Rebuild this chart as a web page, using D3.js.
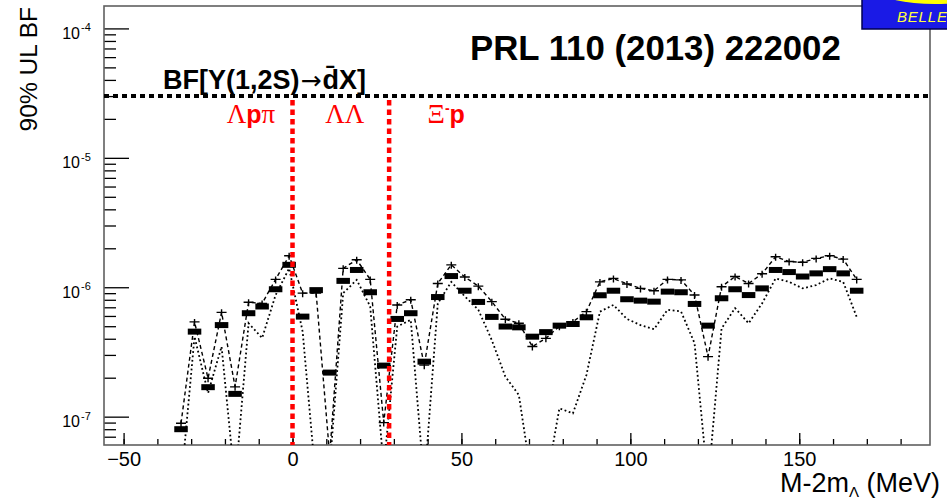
<!DOCTYPE html>
<html>
<head>
<meta charset="utf-8">
<script src="https://cdn.jsdelivr.net/npm/d3@7/dist/d3.min.js"></script>
<style>
html,body{margin:0;padding:0;background:#fff;}
svg{display:block;}
</style>
</head>
<body>
<svg id="chart" width="947" height="502"></svg>
<script>
// ---- data ----
const massBins = [-33,-29,-25,-21,-17,-13,-9,-5,-1,3,7,11,15,19,23,27,31,35,39,43,47,51,55,59,63,67,71,75,79,83,87,91,95,99,103,107,111,115,119,123,127,131,135,139,143,147,151,155,159,163,167];
const ulBars = [8.0e-8,4.54e-7,1.69e-7,5.1e-7,1.5e-7,6.3e-7,7.1e-7,9.65e-7,1.49e-6,5.93e-7,9.5e-7,2.19e-7,1.12e-6,1.36e-6,9.15e-7,2.48e-7,5.69e-7,6.3e-7,2.66e-7,8.4e-7,1.22e-6,9.4e-7,7.7e-7,5.9e-7,4.97e-7,4.9e-7,4.15e-7,4.5e-7,5.05e-7,5.2e-7,5.86e-7,8.67e-7,9.4e-7,8.08e-7,7.88e-7,7.74e-7,9.25e-7,9.15e-7,7.43e-7,5.05e-7,8.22e-7,9.65e-7,8.7e-7,9.8e-7,1.36e-6,1.31e-6,1.21e-6,1.28e-6,1.38e-6,1.28e-6,9.4e-7];
const ulDashed = [8.9e-8,5.4e-7,1.98e-7,6.4e-7,1.7e-7,7.65e-7,7.5e-7,1.15e-6,1.75e-6,9.0e-7,9.0e-7,5e-8,1.40e-6,1.63e-6,1.15e-6,9.0e-8,7.3e-7,8.0e-7,2.5e-7,1.07e-6,1.49e-6,1.2e-6,1.02e-6,7.74e-7,5.66e-7,5.27e-7,3.48e-7,4.03e-7,5.0e-7,5.4e-7,6.48e-7,1.1e-6,1.17e-6,1.06e-6,9.8e-7,9.4e-7,1.15e-6,1.14e-6,8.7e-7,2.91e-7,1.01e-6,1.21e-6,1.07e-6,1.27e-6,1.72e-6,1.58e-6,1.56e-6,1.67e-6,1.75e-6,1.65e-6,1.15e-6];
const ulDotted = [3e-8,4.15e-7,1.52e-7,3.48e-7,3e-8,5.27e-7,4.05e-7,8.7e-7,1.40e-6,4.54e-7,3e-8,4e-8,9e-7,1.14e-6,7.1e-7,4e-8,4.97e-7,5.6e-7,3e-8,7.5e-7,1.1e-6,8.5e-7,6.7e-7,3.9e-7,2.04e-7,1.47e-7,3e-8,3e-8,1.16e-7,1.06e-7,2.1e-7,6.48e-7,7.3e-7,5.69e-7,5.1e-7,4.74e-7,6.7e-7,6.5e-7,3.7e-7,3e-8,4.8e-7,6.9e-7,5.27e-7,7.5e-7,1.17e-6,1.1e-6,9.8e-7,1.04e-6,1.17e-6,1.1e-6,5.9e-7];
const binWidth = 4;
const thresholds = [0, 28.6];
const bfLimit = 3e-5;
const xMajorTicks = [-50, 0, 50, 100, 150];
const xMinorTicks = [-50,-40,-30,-20,-10,0,10,20,30,40,50,60,70,80,90,100,110,120,130,140,150,160,170,180];
const yMajorExponents = [-7, -6, -5, -4];
const yMinorMantissas = [2,3,4,5,6,7,8,9];
const regionLabels = [
  {parts:[["Λ","serif"],["p","sans"],["π","serif"]], at:-12.3},
  {parts:[["Λ","serif"],["Λ","serif"]], at:15.5},
  {parts:[["Ξ","serif"],["-","sup"],["p","sans"]], at:45.5}
];
const titleText = "PRL 110 (2013) 222002";
const bfLabel = {pre:"BF[Y(1,2S)", arrow:"→", post:"d\u0304X]"};

// ---- layout ----
const L = 104, R = 930, T = 6, B = 445;
const svg = d3.select("#chart");
const x = d3.scaleLinear().domain([-55.8, 188.7]).range([L, R]);
const y = d3.scaleLog().domain([6.04e-8, 1.49e-4]).range([B, T]);
const FONT = "'Liberation Sans', Arial, Helvetica, sans-serif";
const SERIF = "'Liberation Serif', 'Times New Roman', serif";

svg.append("rect").attr("width",947).attr("height",502).attr("fill","#fff");

svg.append("defs").append("clipPath").attr("id","plotclip")
  .append("rect").attr("x",L).attr("y",T).attr("width",R-L).attr("height",B-T);

// x axis ticks (pointing up)
const gx = svg.append("g").attr("transform",`translate(0,${B})`);
gx.call(d3.axisBottom(x).tickValues(xMinorTicks).tickSize(-6).tickFormat(""));
gx.call(g=>g.select(".domain").remove());
const gx2 = svg.append("g").attr("transform",`translate(0,${B})`);
gx2.call(d3.axisBottom(x).tickValues(xMajorTicks).tickSize(-12).tickFormat(d3.format("d")));
gx2.call(g=>g.select(".domain").remove());
gx2.selectAll("text").attr("y",21).attr("dy",0).attr("font-size",20).attr("font-family",FONT).attr("fill","#000");
svg.selectAll(".tick line").attr("stroke","#000").attr("stroke-width",1.3);

// y axis ticks (pointing right)
const yMajor = yMajorExponents.map(e=>Math.pow(10,e));
const yMinor = [];
yMajorExponents.concat([-8]).forEach(e=>yMinorMantissas.forEach(m=>{
  const v = m*Math.pow(10,e);
  if (v >= y.domain()[0] && v <= y.domain()[1]) yMinor.push(v);
}));
const gy = svg.append("g").attr("transform",`translate(${L},0)`);
gy.call(d3.axisLeft(y).tickValues(yMinor).tickSize(-12).tickFormat(""));
gy.call(g=>g.select(".domain").remove());
const gy2 = svg.append("g").attr("transform",`translate(${L},0)`);
gy2.call(d3.axisLeft(y).tickValues(yMajor).tickSize(-25).tickFormat(""));
gy2.call(g=>g.select(".domain").remove());
svg.selectAll(".tick line").attr("stroke","#000").attr("stroke-width",1.3);

// y labels 10^n
yMajorExponents.forEach(e=>{
  const yy = y(Math.pow(10,e));
  svg.append("text").attr("x",80).attr("y",yy+10.5)
    .attr("font-family",FONT).attr("font-size",16).attr("text-anchor","end").attr("fill","#000").text("10");
  svg.append("text").attr("x",81).attr("y",yy+3)
    .attr("font-family",FONT).attr("font-size",11).attr("fill","#000").text(String(e));
});

// frame
svg.append("rect").attr("x",L).attr("y",T).attr("width",R-L).attr("height",B-T)
  .attr("fill","none").attr("stroke","#606060").attr("stroke-width",1.6);

// data
const plot = svg.append("g").attr("clip-path","url(#plotclip)");
const pts = (arr)=>massBins.map((m,i)=>[x(m), y(arr[i])]);

plot.append("path").attr("d", d3.line()(pts(ulDotted)))
  .attr("fill","none").attr("stroke","#000").attr("stroke-width",1.8)
  .attr("stroke-dasharray","1.8,2.6");
plot.append("path").attr("d", d3.line()(pts(ulDashed)))
  .attr("fill","none").attr("stroke","#000").attr("stroke-width",1.4)
  .attr("stroke-dasharray","4,3");

// markers for dashed series
plot.selectAll(".mk").data(massBins).enter().append("path")
  .attr("d",(m,i)=>{
    const cx = x(m), cy = y(ulDashed[i]);
    return `M${cx-5},${cy}H${cx+5}M${cx},${cy-3}V${cy+4}`;
  })
  .attr("stroke","#000").attr("stroke-width",1.4).attr("fill","none");

// thick bars
plot.selectAll(".bar").data(massBins).enter().append("rect")
  .attr("x",m=>x(m-binWidth/2)).attr("width",m=>x(m+binWidth/2)-x(m-binWidth/2))
  .attr("y",(m,i)=>y(ulBars[i])-3).attr("height",6).attr("fill","#000");

// BF limit line
svg.append("line").attr("x1",L).attr("x2",R).attr("y1",y(bfLimit)).attr("y2",y(bfLimit))
  .attr("stroke","#000").attr("stroke-width",4).attr("stroke-dasharray","5,4");

// threshold lines
svg.selectAll(".thr").data(thresholds).enter().append("line")
  .attr("x1",d=>x(d)).attr("x2",d=>x(d)).attr("y1",y(bfLimit)+4).attr("y2",B)
  .attr("stroke","#ff0000").attr("stroke-width",4.5).attr("stroke-dasharray","5.5,4");

// region labels
regionLabels.forEach(lab=>{
  const t = svg.append("text").attr("x",x(lab.at)).attr("y",123).attr("text-anchor","middle").attr("fill","#ff0000");
  lab.parts.forEach(([s,kind],i)=>{
    const ts = t.append("tspan").text(s);
    if (kind==="serif") ts.attr("font-family",SERIF).attr("font-size",27);
    else if (kind==="sans") ts.attr("font-family",FONT).attr("font-weight","bold").attr("font-size",25);
    else if (kind==="sup") ts.attr("font-family",FONT).attr("font-weight","bold").attr("font-size",14).attr("dy",-10);
    if (i>0 && lab.parts[i-1][1]==="sup") ts.attr("dy",10);
  });
});

// BF label
const bf = svg.append("text").attr("x",163).attr("y",89).attr("font-family",FONT)
  .attr("font-weight","bold").attr("font-size",27).attr("fill","#000");
bf.append("tspan").text(bfLabel.pre);
bf.append("tspan").attr("font-weight","normal").attr("font-family","'DejaVu Sans', sans-serif").attr("font-size",25).attr("dx",1).text(bfLabel.arrow);
bf.append("tspan").attr("dx",1).text(bfLabel.post);

// title
svg.append("text").attr("x",470).attr("y",60).attr("font-family",FONT).attr("font-weight","bold")
  .attr("font-size",34.8).attr("fill","#000").text(titleText);

// axis titles
svg.append("text").attr("transform","translate(37,7) rotate(-90)").attr("text-anchor","end")
  .attr("font-family",FONT).attr("font-size",24.5).attr("fill","#000").text("90% UL BF");
const xt = svg.append("text").attr("x",940).attr("y",492).attr("text-anchor","end")
  .attr("font-family",FONT).attr("font-size",27).attr("fill","#000");
xt.append("tspan").text("M-2m");
xt.append("tspan").attr("font-size",15).attr("dy",5).text("Λ");
xt.append("tspan").attr("dy",-5).text(" (MeV)");

// Belle logo
const logo = svg.append("g");
logo.append("rect").attr("x",862).attr("y",-3).attr("width",90).attr("height",32)
  .attr("fill","#1a1ae6").attr("stroke","#000050").attr("stroke-width",1.5);
logo.append("ellipse").attr("cx",935).attr("cy",-9).attr("rx",55).attr("ry",13).attr("fill","#ffff00");
logo.append("text").attr("x",897).attr("y",22).attr("font-family",FONT).attr("font-style","italic")
  .attr("font-size",15).attr("letter-spacing",0.8).attr("fill","#ffff40").text("BELLE");
</script>
</body>
</html>
